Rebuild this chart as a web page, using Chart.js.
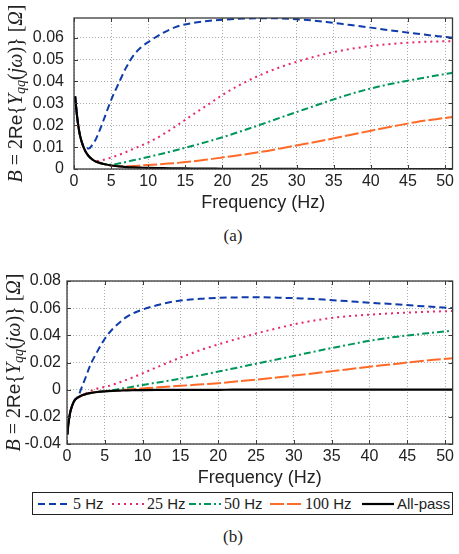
<!DOCTYPE html>
<html>
<head>
<meta charset="utf-8">
<script src="https://cdn.jsdelivr.net/npm/chart.js@4.4.0/dist/chart.umd.min.js"></script>
<style>
  body { margin: 0; width: 459px; height: 554px; background: #fff; position: relative; overflow: hidden; }
  #wa { position: absolute; left: 0; top: 0; width: 459px; height: 214px; }
  #wb { position: absolute; left: 0; top: 262px; width: 459px; height: 227px; }
  .cap { position: absolute; left: 0; width: 466px; text-align: center; font: 17px "Liberation Serif", serif; color: #222; }
  #leg { position: absolute; left: 32px; top: 492px; width: 419px; height: 21px; border: 1px solid #222; }
  #leg .it { position: absolute; top: 0; height: 21px; display: flex; align-items: center; white-space: nowrap; color: #222; }
  #leg svg { margin-right: 3px; }
  #leg .n { font: 16px "Liberation Serif", serif; }
  #leg .u { font: 15px "Liberation Sans", sans-serif; }
</style>
</head>
<body>
<div id="wa"><canvas id="chartA"></canvas></div>
<div class="cap" style="top:226px">(a)</div>
<div id="wb"><canvas id="chartB"></canvas></div>
<div id="leg"></div>
<div class="cap" style="top:527px">(b)</div>

<script>
// frequency grid (Hz), shared by both panels
const freq = [0.05, 0.15, 0.4, 0.7, 1, 1.5, 2, 2.5, 3, 4, 5, 6, 7, 8, 9, 10, 12, 14, 16, 18, 20, 22, 25, 28, 31, 34, 37, 40, 43, 46, 49, 52];

const xTicks = [0, 5, 10, 15, 20, 25, 30, 35, 40, 45, 50];
const yTicksA = [0, 0.01, 0.02, 0.03, 0.04, 0.05, 0.06];
const yTicksB = [-0.04, -0.02, 0, 0.02, 0.04, 0.06, 0.08];

const seriesNames = ['5 Hz', '25 Hz', '50 Hz', '100 Hz', 'All-pass'];

// panel (a)
const hz5A = [null, 0.0332, 0.0245, 0.0172, 0.0128, 0.0096, 0.0094, 0.0112, 0.014, 0.0225, 0.0315, 0.039, 0.0462, 0.0518, 0.0555, 0.058, 0.0622, 0.0652, 0.0667, 0.0676, 0.0682, 0.0686, 0.0689, 0.0688, 0.0682, 0.0672, 0.0659, 0.0646, 0.0632, 0.0619, 0.0607, 0.0597];
const hz25A = [null, 0.0332, 0.0245, 0.0172, 0.0128, 0.0083, 0.0058, 0.0043, 0.0036, 0.0042, 0.0052, 0.0064, 0.0077, 0.0092, 0.0106, 0.0121, 0.0158, 0.0202, 0.0248, 0.0293, 0.0338, 0.0378, 0.0428, 0.0468, 0.05, 0.0527, 0.0547, 0.0562, 0.0572, 0.0579, 0.0583, 0.0585];
const hz50A = [null, 0.0332, 0.0245, 0.0172, 0.0128, 0.0083, 0.0058, 0.0043, 0.0033, 0.0023, 0.0019, 0.0025, 0.0032, 0.004, 0.0047, 0.0055, 0.0071, 0.0088, 0.0106, 0.0125, 0.0145, 0.0167, 0.0201, 0.0237, 0.0272, 0.0307, 0.034, 0.0368, 0.0391, 0.041, 0.0428, 0.0446];
const hz100A = [null, 0.0332, 0.0245, 0.0172, 0.0128, 0.0083, 0.0058, 0.0043, 0.0033, 0.0023, 0.0016, 0.0013, 0.0013, 0.0014, 0.0016, 0.0018, 0.0023, 0.0028, 0.0035, 0.0043, 0.0053, 0.0062, 0.0077, 0.0095, 0.0114, 0.0133, 0.0154, 0.0175, 0.0195, 0.0214, 0.0229, 0.0242];
const allPassA = [null, 0.0332, 0.0245, 0.0172, 0.0128, 0.0083, 0.0058, 0.0043, 0.0033, 0.0023, 0.0016, 0.0012, 0.0009, 0.0007, 0.0006, 0.0005, 0.0004, 0.0003, 0.0002, 0.0002, 0.0001, 0.0001, 0.0001, 0.0001, 0, 0, 0, 0, 0, 0, 0, 0];

// panel (b)
const hz5B = [-0.033, -0.027, -0.0174, -0.0115, -0.0079, -0.0045, 0.0025, 0.0095, 0.017, 0.028, 0.0375, 0.0445, 0.0497, 0.054, 0.0568, 0.059, 0.0623, 0.0648, 0.0662, 0.067, 0.0676, 0.0679, 0.068, 0.0677, 0.0672, 0.0663, 0.0652, 0.064, 0.063, 0.0618, 0.0607, 0.0596];
const hz25B = [-0.033, -0.027, -0.0174, -0.0115, -0.0079, -0.0056, -0.0041, -0.0028, -0.0012, 0.0008, 0.002, 0.0035, 0.0055, 0.0075, 0.0097, 0.012, 0.0168, 0.0214, 0.0258, 0.0298, 0.0333, 0.0366, 0.0413, 0.0455, 0.0492, 0.052, 0.054, 0.0552, 0.0562, 0.057, 0.0576, 0.058];
const hz50B = [-0.033, -0.027, -0.0174, -0.0115, -0.0079, -0.0056, -0.0041, -0.0033, -0.0026, -0.0017, -0.0011, -0.0004, 0.0006, 0.0015, 0.0025, 0.0035, 0.0053, 0.0071, 0.009, 0.011, 0.0133, 0.0156, 0.0191, 0.0225, 0.026, 0.0295, 0.0328, 0.036, 0.0385, 0.0405, 0.0423, 0.0442];
const hz100B = [-0.033, -0.027, -0.0174, -0.0115, -0.0079, -0.0056, -0.0041, -0.0033, -0.0026, -0.0017, -0.0012, -0.0009, -0.0003, 0.0001, 0.0005, 0.0009, 0.0017, 0.0025, 0.0032, 0.004, 0.0048, 0.0058, 0.0074, 0.0091, 0.011, 0.0129, 0.0149, 0.0169, 0.0187, 0.0206, 0.0222, 0.0237];
const allPassB = [-0.033, -0.027, -0.0174, -0.0115, -0.0079, -0.0056, -0.0041, -0.0033, -0.0026, -0.0017, -0.0012, -0.0009, -0.0007, -0.0005, -0.0004, -0.0003, -0.0002, -0.0002, -0.0001, -0.0001, -0.0001, 0, 0, 0, 0, 0, 0, 0, 0, 0, 0, 0];

// line styles
const styles = [
  { color: '#0f3caa', dash: [7, 4], width: 2 },
  { color: '#e8286a', dash: [2, 4], width: 2 },
  { color: '#00965a', dash: [7, 3, 2, 3], width: 2 },
  { color: '#ff6a28', dash: [14, 3], width: 2 },
  { color: '#000000', dash: [], width: 2.2 }
];

function makeSets(list) {
  return list.map((ys, i) => ({
    label: seriesNames[i],
    data: freq.map((f, k) => ({ x: f, y: ys[k] })),
    borderColor: styles[i].color,
    borderDash: styles[i].dash,
    borderWidth: styles[i].width,
    pointRadius: 0,
    fill: false,
    cubicInterpolationMode: 'monotone',
    order: i === 4 ? -1 : i
  }));
}

// box + inner tick marks
const boxPlugin = {
  id: 'box',
  afterDatasetsDraw(chart) {
    const { ctx, chartArea: a, scales } = chart;
    ctx.save();
    ctx.strokeStyle = '#3a3a3a';
    ctx.lineWidth = 1;
    ctx.beginPath();
    scales.x.ticks.forEach(t => {
      const px = Math.round(scales.x.getPixelForValue(t.value)) + 0.5;
      ctx.moveTo(px, a.bottom); ctx.lineTo(px, a.bottom - 4);
      ctx.moveTo(px, a.top); ctx.lineTo(px, a.top + 4);
    });
    scales.y.ticks.forEach(t => {
      const py = Math.round(scales.y.getPixelForValue(t.value)) + 0.5;
      ctx.moveTo(a.left, py); ctx.lineTo(a.left + 4, py);
      ctx.moveTo(a.right, py); ctx.lineTo(a.right - 4, py);
    });
    ctx.stroke();
    ctx.lineWidth = 1.3;
    ctx.strokeRect(a.left, a.top, a.right - a.left, a.bottom - a.top);
    ctx.restore();
  }
};

// rotated math-style y label
const yTitlePlugin = {
  id: 'yTitle',
  afterDraw(chart, args, opts) {
    const { ctx, chartArea } = chart;
    const serif = '"Liberation Serif", "DejaVu Serif", serif';
    const parts = [
      ['B', 'italic 20px ' + serif, 0],
      [' = 2', '20px ' + serif, 0],
      ['Re', '19px "Liberation Sans", sans-serif', 0],
      ['{', '20px ' + serif, 0],
      ['Y', 'italic 20px ' + serif, 0],
      ['qq', 'italic 14px ' + serif, 4],
      ['(', '20px ' + serif, 0],
      ['jω', 'italic 20px ' + serif, 0],
      [')}', '20px ' + serif, 0],
      [' [', '20px ' + serif, 0],
      ['Ω', 'italic 20px ' + serif, 0],
      [']', '20px ' + serif, 0]
    ];
    ctx.save();
    let w = 0;
    parts.forEach(p => { ctx.font = p[1]; w += ctx.measureText(p[0]).width; });
    ctx.translate(opts.x, (chartArea.top + chartArea.bottom) / 2);
    ctx.rotate(-Math.PI / 2);
    ctx.textBaseline = 'middle';
    ctx.fillStyle = '#222';
    let x = -w / 2;
    parts.forEach(p => {
      ctx.font = p[1];
      ctx.fillText(p[0], x, p[2]);
      x += ctx.measureText(p[0]).width;
    });
    ctx.restore();
  }
};

const sans = '"Liberation Sans", Arial, sans-serif';

function makeChart(id, sets, yMin, yMax, yTicks, o) {
  return new Chart(document.getElementById(id), {
    type: 'line',
    data: { datasets: makeSets(sets) },
    plugins: [boxPlugin, yTitlePlugin],
    options: {
      responsive: true,
      maintainAspectRatio: false,
      animation: false,
      layout: { padding: { top: o.top, right: 1, left: 0, bottom: 0 } },
      plugins: {
        legend: { display: false },
        tooltip: { enabled: false },
        yTitle: { x: o.titleX }
      },
      scales: {
        x: {
          type: 'linear',
          min: 0,
          max: 51,
          afterBuildTicks: s => { s.ticks = xTicks.map(v => ({ value: v })); },
          afterFit: s => { s.height = 45; },
          grid: { color: 'rgba(0,0,0,0.33)', drawTicks: false },
          border: { display: false, dash: [1, 2] },
          ticks: { padding: 5, color: '#222', font: { family: sans, size: 16, lineHeight: 1 }, maxRotation: 0 },
          title: { display: true, text: 'Frequency (Hz)', color: '#222', padding: { top: o.xTitlePad, bottom: 0 }, font: { family: sans, size: 18 } }
        },
        y: {
          min: yMin,
          max: yMax,
          afterBuildTicks: s => { s.ticks = yTicks.map(v => ({ value: v })); },
          afterFit: s => { s.width = o.yWidth; },
          grid: { color: 'rgba(0,0,0,0.33)', drawTicks: false },
          border: { display: false, dash: [1, 2] },
          ticks: {
            padding: o.yPad,
            color: '#222',
            font: { family: sans, size: 16, lineHeight: 1 },
            callback: v => (Math.abs(v) < 1e-9 ? '0' : v.toFixed(2))
          }
        }
      }
    }
  });
}

makeChart('chartA', [hz5A, hz25A, hz50A, hz100A, allPassA], 0, 0.069, yTicksA,
  { top: 8, yWidth: 74, yPad: 10, titleX: 17, xTitlePad: -1 });
makeChart('chartB', [hz5B, hz25B, hz50B, hz100B, allPassB], -0.04, 0.08, yTicksB,
  { top: 19, yWidth: 67, yPad: 6, titleX: 15, xTitlePad: -5 });

// legend built from the series names and styles
const legLeft = [5, 79, 156, 237, 329];
const leg = document.getElementById('leg');
seriesNames.forEach((name, i) => {
  const st = styles[i];
  const it = document.createElement('span');
  it.className = 'it';
  it.style.left = legLeft[i] + 'px';
  const svgNS = 'http://www.w3.org/2000/svg';
  const svg = document.createElementNS(svgNS, 'svg');
  svg.setAttribute('width', '32'); svg.setAttribute('height', '6');
  const ln = document.createElementNS(svgNS, 'line');
  ln.setAttribute('x1', '0'); ln.setAttribute('y1', '3');
  ln.setAttribute('x2', '32'); ln.setAttribute('y2', '3');
  ln.setAttribute('stroke', st.color);
  ln.setAttribute('stroke-width', st.width);
  if (st.dash.length) ln.setAttribute('stroke-dasharray', st.dash.join(' '));
  svg.appendChild(ln);
  it.appendChild(svg);
  const m = name.match(/^(\d+)( Hz)$/);
  if (m) {
    const n = document.createElement('span'); n.className = 'n'; n.textContent = m[1];
    const u = document.createElement('span'); u.className = 'u'; u.textContent = m[2].replace(' ', '\u00a0');
    it.appendChild(n); it.appendChild(u);
  } else {
    const u = document.createElement('span'); u.className = 'u'; u.textContent = name;
    it.appendChild(u);
  }
  leg.appendChild(it);
});
</script>
</body>
</html>
